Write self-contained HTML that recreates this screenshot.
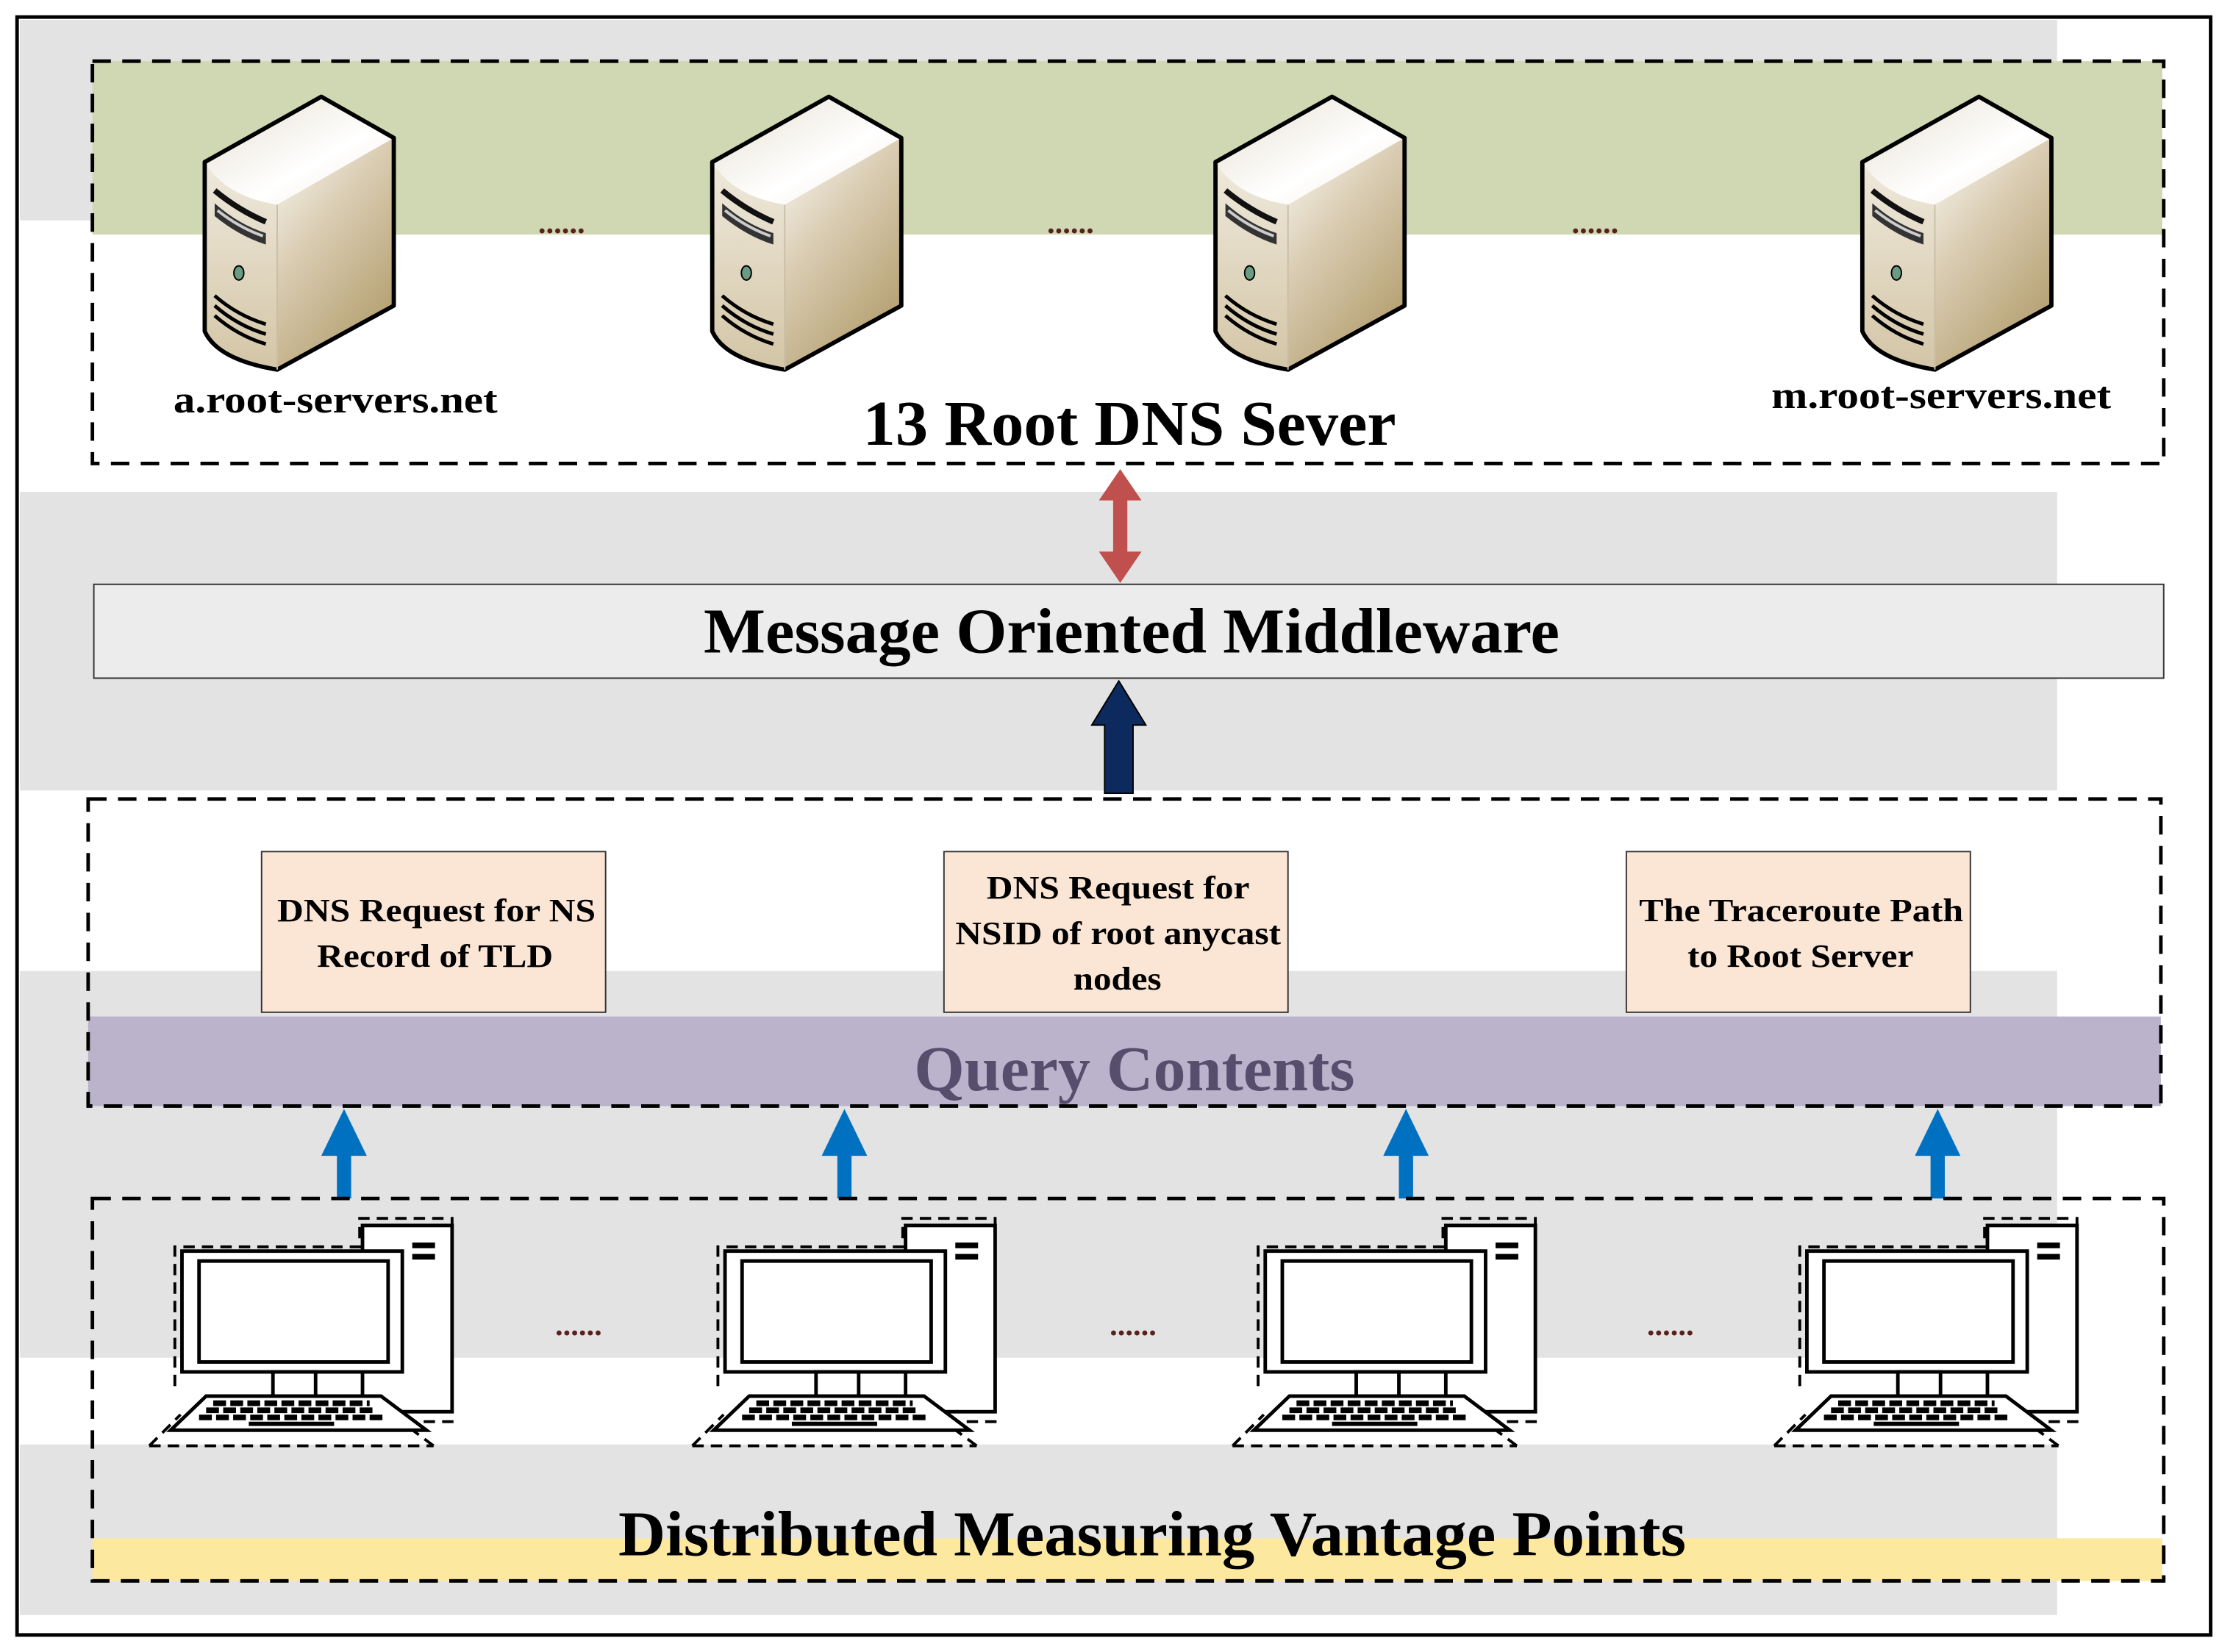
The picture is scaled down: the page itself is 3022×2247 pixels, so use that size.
<!DOCTYPE html>
<html><head><meta charset="utf-8"><style>
html,body{margin:0;padding:0;background:#fff;}
svg{display:block;}
text{font-family:"Liberation Serif",serif;font-weight:bold;}
</style></head><body>
<svg width="3022" height="2247" viewBox="0 0 1563 1162" preserveAspectRatio="none" xmlns="http://www.w3.org/2000/svg">
<defs>
<linearGradient id="top" x1="0" y1="0" x2="1" y2="1"><stop offset="0" stop-color="#e6dfd0"/><stop offset="0.6" stop-color="#ffffff"/><stop offset="1" stop-color="#f0ebe0"/></linearGradient>
<linearGradient id="right" x1="0" y1="0" x2="0.6" y2="1"><stop offset="0" stop-color="#fbf9f4"/><stop offset="0.45" stop-color="#d9ccb2"/><stop offset="1" stop-color="#b5a071"/></linearGradient>
<linearGradient id="left" x1="0" y1="0" x2="0" y2="1"><stop offset="0" stop-color="#efe9dc"/><stop offset="1" stop-color="#d3c5a6"/></linearGradient>
<g id="srv">
<path d="M1,46 Q15,70 52,76 L52,192 Q10,185 1,165 Z" fill="url(#left)"/>
<path d="M52,76 L134,29 L134,147 L52,192 Z" fill="url(#right)"/>
<path d="M1,46 L83,0 L134,29 L52,76 Q15,70 1,46 Z" fill="url(#top)"/>
<path d="M83,0 L134,29 L134,147 L52,192 Q10,185 1,165 L1,46 Z" fill="none" stroke="#000" stroke-width="3" stroke-linejoin="round"/>
<path d="M52,76 L52,192" stroke="#c9bea6" stroke-width="1"/>
<path d="M8,66 Q25,80 44,88" stroke="#111" stroke-width="4" fill="none"/>
<path d="M8,75 Q25,90 44,96 L44,104 Q25,98 8,84 Z" fill="#333"/>
<path d="M10,80 Q25,92 42,98" stroke="#ccc" stroke-width="2" fill="none"/>
<ellipse cx="25" cy="124" rx="3.5" ry="5" fill="#6a9c84" stroke="#000" stroke-width="1"/>
<path d="M8,140 Q24,154 44,160 M8,147 Q24,161 44,167 M8,154 Q24,168 44,174" stroke="#000" stroke-width="2.5" fill="none"/>
</g>
<g id="pc" stroke="#000" fill="#fff">
<path d="M18,120 L18,22 L148,22 L148,2 L213,2 L213,145 L185,145" fill="none" stroke-width="2" stroke-dasharray="8,5"/>
<path d="M0,162 L200,162 M0,162 L22,140 M200,162 L180,147" fill="none" stroke-width="2" stroke-dasharray="8,5"/>
<rect x="150" y="7" width="63" height="131" stroke-width="2.5"/>
<rect x="185" y="19" width="16" height="4" fill="#000" stroke="none"/>
<rect x="185" y="27" width="16" height="4" fill="#000" stroke="none"/>
<rect x="23" y="25" width="155" height="85" stroke-width="2.5"/>
<rect x="35" y="32" width="133" height="71" stroke-width="2.5"/>
<rect x="87" y="110" width="30" height="17" stroke-width="2.5"/>
<path d="M40,127 L163,127 L195,151 L15,151 Z" stroke-width="2.5"/>
<path d="M45,132 L155,132 M40,137 L160,137 M35,142 L165,142" stroke-width="4" stroke-dasharray="9,3"/>
<rect x="70" y="145" width="60" height="3" fill="#000" stroke="none"/>
</g>
</defs>
<rect x="0" y="0" width="1563" height="1162" fill="#fff"/>
<rect x="14" y="14" width="1433" height="141" fill="#e3e3e3"/>
<rect x="65" y="43" width="1456" height="122" fill="#cfd8b2"/>
<rect x="14" y="346" width="1433" height="210" fill="#e3e3e3"/>
<rect x="14" y="683" width="1433" height="272" fill="#e3e3e3"/>
<rect x="14" y="1016" width="1433" height="120" fill="#e3e3e3"/>
<rect x="62" y="715" width="1458" height="63" fill="#bab3cb"/>
<rect x="65" y="1082" width="1456" height="30" fill="#fde8a0"/>
<rect x="12" y="12" width="1543" height="1138" fill="none" stroke="#000" stroke-width="2.5"/>
<rect x="65" y="43" width="1457" height="283" fill="none" stroke="#000" stroke-width="2.5" stroke-dasharray="13,8"/>
<use href="#srv" x="143" y="68"/>
<use href="#srv" x="500" y="68"/>
<use href="#srv" x="854" y="68"/>
<use href="#srv" x="1309" y="68"/>
<g fill="#5a1f1f">
<text x="395" y="164" font-size="22" text-anchor="middle">......</text>
<text x="753" y="164" font-size="22" text-anchor="middle">......</text>
<text x="1122" y="164" font-size="22" text-anchor="middle">......</text>
</g>
<text x="122" y="290" font-size="27" textLength="228" lengthAdjust="spacingAndGlyphs">a.root-servers.net</text>
<text x="1246" y="287" font-size="27" textLength="239" lengthAdjust="spacingAndGlyphs">m.root-servers.net</text>
<text x="607" y="313" font-size="45" textLength="375" lengthAdjust="spacingAndGlyphs">13 Root DNS Sever</text>
<path d="M788,330 L803,352 L793,352 L793,388 L803,388 L788,410 L773,388 L783,388 L783,352 L773,352 Z" fill="#c0504d"/>
<rect x="66" y="411" width="1456" height="66" fill="#ececec" stroke="#333" stroke-width="1"/>
<text x="495" y="459" font-size="45" textLength="602" lengthAdjust="spacingAndGlyphs">Message Oriented Middleware</text>
<path d="M787,479 L806,510 L797,510 L797,558 L777,558 L777,510 L768,510 Z" fill="#0d2a5e" stroke="#000" stroke-width="1"/>
<rect x="62" y="562" width="1458" height="216" fill="none" stroke="#000" stroke-width="2.5" stroke-dasharray="13,8"/>
<g fill="#fbe6d6" stroke="#333" stroke-width="1">
<rect x="184" y="599" width="242" height="113"/>
<rect x="664" y="599" width="242" height="113"/>
<rect x="1144" y="599" width="242" height="113"/>
</g>
<g font-size="23" fill="#000">
<text x="195" y="648" textLength="224" lengthAdjust="spacingAndGlyphs">DNS Request for NS</text>
<text x="223" y="680" textLength="166" lengthAdjust="spacingAndGlyphs">Record of TLD</text>
<text x="694" y="632" textLength="185" lengthAdjust="spacingAndGlyphs">DNS Request for</text>
<text x="672" y="664" textLength="229" lengthAdjust="spacingAndGlyphs">NSID of root anycast</text>
<text x="755" y="696" textLength="62" lengthAdjust="spacingAndGlyphs">nodes</text>
<text x="1153" y="648" textLength="228" lengthAdjust="spacingAndGlyphs">The Traceroute Path</text>
<text x="1187" y="680" textLength="159" lengthAdjust="spacingAndGlyphs">to Root Server</text>
</g>
<text x="643" y="767" font-size="45" fill="#574d6d" textLength="310" lengthAdjust="spacingAndGlyphs">Query Contents</text>
<g fill="#0070c0">
<path d="M242,780 L258,813 L247,813 L247,843 L237,843 L237,813 L226,813 Z"/>
<path d="M594,780 L610,813 L599,813 L599,843 L589,843 L589,813 L578,813 Z"/>
<path d="M989,780 L1005,813 L994,813 L994,843 L984,843 L984,813 L973,813 Z"/>
<path d="M1363,780 L1379,813 L1368,813 L1368,843 L1358,843 L1358,813 L1347,813 Z"/>
</g>
<rect x="65" y="843" width="1457" height="269" fill="none" stroke="#000" stroke-width="2.5" stroke-dasharray="13,8"/>
<use href="#pc" x="105" y="855"/>
<use href="#pc" x="487" y="855"/>
<use href="#pc" x="867" y="855"/>
<use href="#pc" x="1248" y="855"/>
<g fill="#5a1f1f">
<text x="407" y="939" font-size="22" text-anchor="middle">......</text>
<text x="797" y="939" font-size="22" text-anchor="middle">......</text>
<text x="1175" y="939" font-size="22" text-anchor="middle">......</text>
</g>
<text x="435" y="1094" font-size="45" textLength="751" lengthAdjust="spacingAndGlyphs">Distributed Measuring Vantage Points</text>
</svg>
</body></html>
